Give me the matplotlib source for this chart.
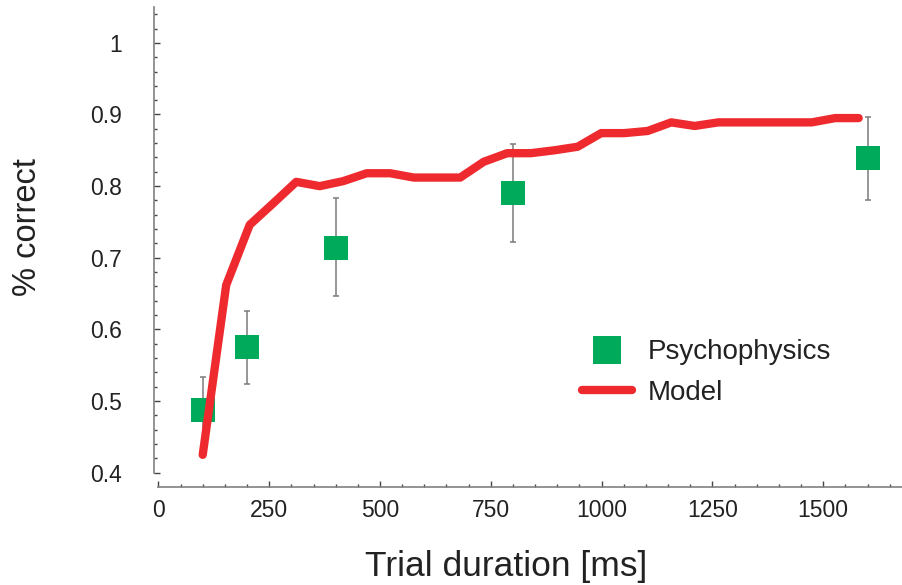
import matplotlib
matplotlib.use("Agg")
import matplotlib.pyplot as plt
from matplotlib.ticker import MultipleLocator, FixedLocator

plt.rcParams["font.family"] = ["Liberation Sans", "DejaVu Sans"]

# Psychophysics results (mean and error bar limits)
psy_duration = [100, 200, 400, 800, 1600]
psy_correct = [0.487, 0.575, 0.713, 0.791, 0.839]
psy_upper = [0.533, 0.626, 0.783, 0.859, 0.897]
psy_lower = [0.423, 0.524, 0.647, 0.722, 0.781]

# Model prediction
model_duration = [100, 153, 206, 259, 311, 364, 417, 470, 523, 576, 629, 681,
                  734, 787, 840, 893, 946, 999, 1051, 1104, 1157, 1210, 1263,
                  1316, 1369, 1421, 1474, 1527, 1580]
model_correct = [0.425, 0.662, 0.746, 0.776, 0.806, 0.800, 0.807, 0.818, 0.818,
                 0.812, 0.812, 0.812, 0.834, 0.846, 0.846, 0.850, 0.855, 0.874,
                 0.874, 0.877, 0.889, 0.884, 0.889, 0.889, 0.889, 0.889, 0.889,
                 0.895, 0.895]

GREEN = "#00AA5B"
RED = "#EE2A2F"
TEXT = "#222222"
AXIS = "#808080"

fig = plt.figure(figsize=(9.03, 5.85), dpi=100)
ax = fig.add_axes([0.1705, 0.168, 0.8295, 0.820])

yerr = [[c - lo for c, lo in zip(psy_correct, psy_lower)],
        [hi - c for c, hi in zip(psy_correct, psy_upper)]]
_, caps, bars = ax.errorbar(psy_duration, psy_correct, yerr=yerr, fmt="none",
                            ecolor="#7a7a7a", elinewidth=1.1, capsize=2.5,
                            capthick=1.1, zorder=1)
for cap in caps:
    cap.set_color("#333333")

ax.plot(psy_duration, psy_correct, linestyle="none", marker="s",
        markersize=17.8, markeredgewidth=0, color=GREEN, zorder=2,
        label="Psychophysics")
ax.plot(model_duration, model_correct, color=RED, linewidth=6,
        solid_capstyle="round", solid_joinstyle="round", zorder=3,
        label="Model")

ax.set_xlim(-10, 1680)
ax.set_ylim(0.3805, 1.05)

for side in ("top", "right"):
    ax.spines[side].set_visible(False)
for side in ("left", "bottom"):
    ax.spines[side].set_color(AXIS)
    ax.spines[side].set_linewidth(1.2)
ax.spines["left"].set_bounds(0.4, 1.05)
ax.spines["bottom"].set_bounds(0, 1680)

ax.xaxis.set_major_locator(FixedLocator([0, 250, 500, 750, 1000, 1250, 1500]))
ax.xaxis.set_minor_locator(MultipleLocator(50))
ax.yaxis.set_major_locator(FixedLocator([0.4, 0.5, 0.6, 0.7, 0.8, 0.9, 1.0]))
ax.yaxis.set_minor_locator(FixedLocator([0.4 + 0.02 * i for i in range(33)]))
ax.set_yticklabels(["0.4", "0.5", "0.6", "0.7", "0.8", "0.9", "1"])

ax.tick_params(which="both", direction="in", color="#444444", width=1,
               labelcolor=TEXT, labelsize=16.5)
ax.tick_params(which="major", length=4)
ax.tick_params(which="minor", length=2.2)
ax.tick_params(axis="y", which="major", pad=23)
ax.tick_params(axis="x", which="major", pad=9)

ax.set_xlabel("Trial duration [ms]", fontsize=25.5, color=TEXT, va="center")
ax.xaxis.set_label_coords(0.47, -0.166)
ax.set_ylabel("% correct", fontsize=23.5, color=TEXT, va="center")
ax.yaxis.set_label_coords(-0.169, 0.542)

leg = ax.legend(loc="center left", bbox_to_anchor=(0.572, 0.238),
                frameon=False, fontsize=20, markerscale=1.15,
                handlelength=1.8, handletextpad=0.55, labelspacing=0.52,
                borderpad=0, borderaxespad=0)
for t in leg.get_texts():
    t.set_color(TEXT)

fig.savefig("out.png", dpi=100)
